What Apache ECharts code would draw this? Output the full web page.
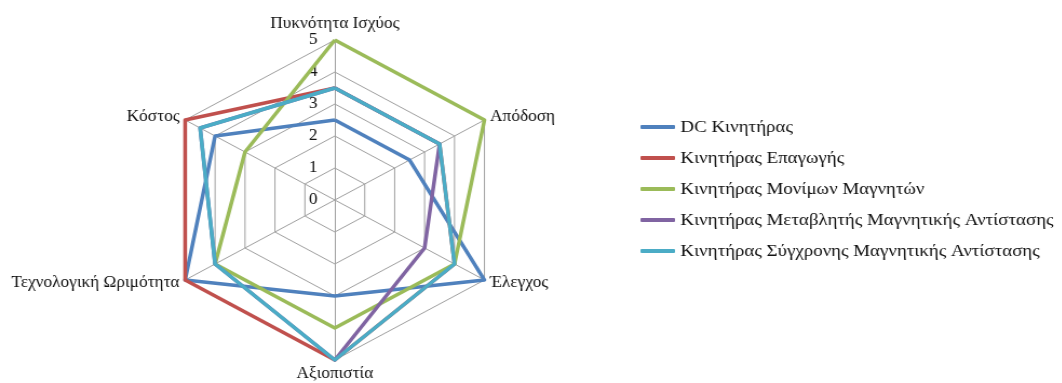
<!DOCTYPE html>
<html>
<head>
<meta charset="utf-8">
<script src="https://cdn.jsdelivr.net/npm/echarts@6/dist/echarts.min.js"></script>
<style>
  html, body { margin: 0; padding: 0; background: #ffffff; overflow: hidden; }
  #wrap { width: 1062px; height: 383px; overflow: hidden; }
  /* the figure is drawn slightly wider than tall, as in the printed layout */
  #chart { width: 984px; height: 383px; transform: scaleX(1.08); transform-origin: 0 0; }
</style>
</head>
<body>
<div id="wrap"><div id="chart"></div></div>
<script>
// Criteria, listed clockwise starting from the top axis
const categories = [
  'Πυκνότητα Ισχύος',
  'Απόδοση',
  'Έλεγχος',
  'Αξιοπιστία',
  'Τεχνολογική Ωριμότητα',
  'Κόστος'
];

const tickLabels = ['0', '1', '2', '3', '4', '5'];
const scaleMax = 5;

// Scores per motor type, in the same order as categories
const seriesNames = [
  'DC Κινητήρας',
  'Κινητήρας Επαγωγής',
  'Κινητήρας Μονίμων Μαγνητών',
  'Κινητήρας Μεταβλητής Μαγνητικής Αντίστασης',
  'Κινητήρας Σύγχρονης Μαγνητικής Αντίστασης'
];
const dcMotor        = [2.5, 2.5, 5, 3, 5, 4];
const inductionMotor = [3.5, 3.5, 4, 5, 5, 5];
const pmMotor        = [5, 5, 4, 4, 4, 3];
const srMotor        = [3.5, 3.5, 3, 5, 4, 4.5];
const synRelMotor    = [3.5, 3.5, 4, 5, 4, 4.5];

const seriesValues = [dcMotor, inductionMotor, pmMotor, srMotor, synRelMotor];
const colors = ['#4F81BD', '#C0504D', '#9BBB59', '#8064A2', '#4BACC6'];

// ECharts lays radar indicators out counter-clockwise; reorder so the
// axes run clockwise from the top.
const order = [0, 5, 4, 3, 2, 1];
const reorder = arr => order.map(i => arr[i]);

const serifFont = '"Liberation Serif", "DejaVu Serif", serif';
const textColor = '#111111';

const indicators = reorder(categories).map((name, i) => {
  const ind = { name: name, min: 0, max: scaleMax };
  if (i === 0) {
    ind.axisLabel = {
      show: true,
      margin: 16,
      color: textColor,
      fontFamily: serifFont,
      fontSize: 16,
      formatter: v => tickLabels[Math.round(v)]
    };
  }
  return ind;
});

const chart = echarts.init(document.getElementById('chart'), null, { renderer: 'canvas' });

chart.setOption({
  animation: false,
  backgroundColor: '#ffffff',
  color: colors,
  legend: {
    orient: 'vertical',
    left: 593,
    top: 117,
    padding: 0,
    itemWidth: 32,
    itemHeight: 4,
    itemGap: 11,
    icon: 'roundRect',
    data: seriesNames,
    textStyle: {
      color: textColor,
      fontFamily: serifFont,
      fontSize: 17.5,
      lineHeight: 20
    }
  },
  radar: {
    center: [310, 200],
    radius: 160,
    startAngle: 90,
    splitNumber: 5,
    shape: 'polygon',
    indicator: indicators,
    nameGap: 6,
    axisName: {
      color: textColor,
      fontFamily: serifFont,
      fontSize: 16
    },
    axisLabel: { show: false },
    axisTick: { show: false },
    axisLine: { lineStyle: { color: '#a0a0a0', width: 1 } },
    splitLine: { lineStyle: { color: '#a0a0a0', width: 1 } },
    splitArea: { show: false }
  },
  series: [{
    type: 'radar',
    symbol: 'none',
    data: seriesNames.map((name, k) => ({
      name: name,
      value: reorder(seriesValues[k]),
      lineStyle: { color: colors[k], width: 3.5 },
      itemStyle: { color: colors[k] }
    }))
  }]
});
</script>
</body>
</html>
